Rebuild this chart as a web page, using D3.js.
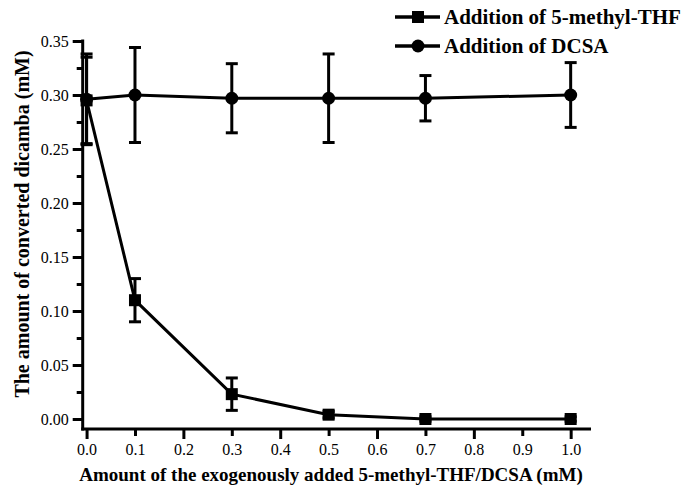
<!DOCTYPE html>
<html><head><meta charset="utf-8">
<script src="https://cdn.jsdelivr.net/npm/d3@7/dist/d3.min.js"></script>
<style>body{margin:0;background:#fff}svg{display:block}svg text{font-family:"Liberation Serif","Times New Roman",Times,serif}</style>
</head><body>
<script>
const xValues = [0, 0.1, 0.3, 0.5, 0.7, 1.0];
const thfMean = [0.295, 0.110, 0.023, 0.004, 0.000, 0.000];
const thfErr  = [0.040, 0.020, 0.015, 0.003, 0.002, 0.002];
const dcsaMean = [0.296, 0.300, 0.297, 0.297, 0.297, 0.300];
const dcsaErr  = [0.042, 0.044, 0.032, 0.041, 0.021, 0.030];
const xTicks = [0,0.1,0.2,0.3,0.4,0.5,0.6,0.7,0.8,0.9,1.0];
const yTicks = [0,0.05,0.10,0.15,0.20,0.25,0.30,0.35];
const yMinor = [0.025,0.075,0.125,0.175,0.225,0.275,0.325];
const seriesNames = ["Addition of 5-methyl-THF","Addition of DCSA"];
const xTitle = "Amount of the exogenously added 5-methyl-THF/DCSA (mM)";
const yTitle = "The amount of converted dicamba (mM)";

const W=683,H=487;
const svg=d3.select("body").append("svg").attr("width",W).attr("height",H);
const x=d3.scaleLinear().domain([-0.008,1.042]).range([82.7,591]);
const y=d3.scaleLinear().domain([-0.00926,0.35]).range([429,41]);

// axes lines
const axisG=svg.append("g");
axisG.append("line").attr("x1",x(-0.008)).attr("x2",x(-0.008)).attr("y1",y(0.35)-1.5).attr("y2",y(-0.00926)+1.5)
  .attr("stroke","#000").attr("stroke-width",3);
axisG.append("line").attr("x1",x(-0.008)-1.5).attr("x2",x(1.042)).attr("y1",y(-0.00926)).attr("y2",y(-0.00926))
  .attr("stroke","#000").attr("stroke-width",3);

// y ticks
const yAxis=d3.axisLeft(y).tickValues(yTicks).tickFormat(d3.format(".2f")).tickSize(10).tickPadding(4).tickSizeOuter(0);
const gy=svg.append("g").attr("transform",`translate(${x(-0.008)},0)`).call(yAxis);
gy.attr("font-family",null);
gy.select(".domain").remove();
gy.selectAll(".tick line").attr("stroke-width",3);
gy.selectAll(".tick text").attr("font-size",16).attr("fill","#000").attr("dy","0.34em");
const gym=svg.append("g").attr("transform",`translate(${x(-0.008)},0)`)
  .call(d3.axisLeft(y).tickValues(yMinor).tickSize(6).tickFormat(""));
gym.select(".domain").remove();
gym.selectAll(".tick line").attr("stroke-width",3);

// x ticks
const gx=svg.append("g").attr("transform",`translate(0,${y(-0.00926)})`)
  .call(d3.axisBottom(x).tickValues(xTicks).tickFormat(d3.format(".1f")).tickSize(10).tickPadding(6).tickSizeOuter(0));
gx.attr("font-family",null);
gx.select(".domain").remove();
gx.selectAll(".tick line").attr("stroke-width",3).attr("y2",(d,i)=>i%2===0?10:7);
gx.selectAll(".tick text").attr("font-size",16).attr("fill","#000").attr("y",15);

// titles
svg.append("text").attr("x",331).attr("y",481).attr("text-anchor","middle")
  .attr("font-weight","bold").attr("font-size",19).text(xTitle);
svg.append("text").attr("transform","translate(29,224) rotate(-90)").attr("text-anchor","middle")
  .attr("font-weight","bold").attr("font-size",20).text(yTitle);

// data
function drawSeries(mean,err,shape){
  const pts=xValues.map((v,i)=>({x:v,m:mean[i],e:err[i]}));
  const g=svg.append("g");
  g.append("path").datum(pts).attr("fill","none").attr("stroke","#000").attr("stroke-width",3)
    .attr("d",d3.line().x(d=>x(d.x)).y(d=>y(d.m)));
  pts.forEach(d=>{
    const cx=x(d.x);
    g.append("line").attr("x1",cx).attr("x2",cx).attr("y1",y(d.m+d.e)).attr("y2",y(d.m-d.e)).attr("stroke","#000").attr("stroke-width",3);
    [d.m+d.e,d.m-d.e].forEach(v=>g.append("line").attr("x1",cx-6).attr("x2",cx+6).attr("y1",y(v)).attr("y2",y(v)).attr("stroke","#000").attr("stroke-width",3));
  });
  pts.forEach(d=>{
    if(shape==="square") g.append("rect").attr("x",x(d.x)-6).attr("y",y(d.m)-6).attr("width",12).attr("height",12).attr("fill","#000");
    else g.append("circle").attr("cx",x(d.x)).attr("cy",y(d.m)).attr("r",6.5).attr("fill","#000");
  });
}
drawSeries(dcsaMean,dcsaErr,"circle");
drawSeries(thfMean,thfErr,"square");

// legend
const legY=[17,46];
seriesNames.forEach((n,i)=>{
  const g=svg.append("g");
  g.append("line").attr("x1",395).attr("x2",440).attr("y1",legY[i]).attr("y2",legY[i]).attr("stroke","#000").attr("stroke-width",3.5);
  if(i===0) g.append("rect").attr("x",412).attr("y",legY[i]-6).attr("width",12).attr("height",12).attr("fill","#000");
  else g.append("circle").attr("cx",418).attr("cy",legY[i]).attr("r",6.5).attr("fill","#000");
  g.append("text").attr("x",444).attr("y",legY[i]).attr("dy","0.35em").attr("font-weight","bold").attr("font-size",21).text(n);
});
</script>
</body></html>
